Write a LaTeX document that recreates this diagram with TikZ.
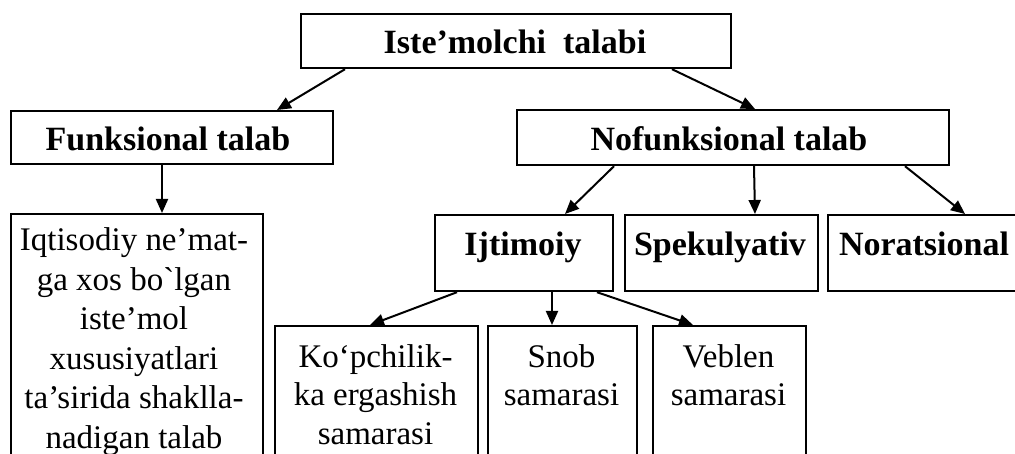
\documentclass[tikz,border=0pt]{standalone}
\usepackage{fontspec}
\setmainfont{Liberation Serif}
\usetikzlibrary{arrows.meta}
\tikzset{
  box/.style={draw=black, line width=2.2pt, rectangle, anchor=north west, inner sep=0pt, fill=white},
  conn/.style={line width=2pt, -{Triangle[length=14pt,width=12pt]}},
  bt/.style={font=\fontsize{34}{38}\selectfont\bfseries, anchor=base, inner sep=0pt},
  lt/.style={font=\fontsize{33}{39.5}\selectfont, anchor=base, inner sep=0pt, align=center},
  st/.style={font=\fontsize{33}{38.5}\selectfont, anchor=base, inner sep=0pt, align=center}
}
\begin{document}
\begin{tikzpicture}[x=1pt,y=-1pt]
\useasboundingbox (0,0) rectangle (1015,454);
\clip (0,0) rectangle (1015,454);
% boxes
\node[box, minimum width=430, minimum height=54] (top) at (300,13) {};
\node[box, minimum width=322, minimum height=53] (funk) at (10,110) {};
\node[box, minimum width=432, minimum height=55] (nofunk) at (516,109) {};
\node[box, minimum width=252, minimum height=260] (left) at (10,213) {};
\node[box, minimum width=178, minimum height=76] (ijt) at (434,214) {};
\node[box, minimum width=193, minimum height=76] (spek) at (624,214) {};
\node[box, minimum width=200, minimum height=76] (nor) at (827,214) {};
\node[box, minimum width=203, minimum height=150] (kop) at (274,325) {};
\node[box, minimum width=149, minimum height=150] (snob) at (487,325) {};
\node[box, minimum width=153, minimum height=150] (veb) at (652,325) {};
% texts
\node[bt] (topt) at (515,54) {Iste’molchi\ \ talabi};
\node[bt] (funkt) at (168,151) {Funksional talab};
\node[bt] (nofunkt) at (729,151) {Nofunksional talab};
\node[bt] (ijtt) at (523,256) {Ijtimoiy};
\node[bt] (spekt) at (720,256) {Spekulyativ};
\node[bt] (nort) at (924,256) {Noratsional};
\node[lt] (leftt) at (134,448) {Iqtisodiy ne’mat-\\ga xos bo\textasciigrave lgan\\iste’mol\\xususiyatlari\\ta’sirida shaklla-\\nadigan talab};
\node[st] (kopt) at (375.5,444) {Ko‘pchilik-\\ka ergashish\\samarasi};
\node[st] (snobt) at (561.5,406) {Snob\\samarasi};
\node[st] (vebt) at (728.5,406) {Veblen\\samarasi};
% connectors
\draw[conn] ([xshift=45pt]top.south west) -- ([xshift=267pt]funk.north west);
\draw[conn] ([xshift=372pt]top.south west) -- ([xshift=239pt]nofunk.north west);
\draw[conn] ([xshift=152pt]funk.south west) -- ([xshift=152pt]left.north west);
\draw[conn] ([xshift=98pt]nofunk.south west) -- ([xshift=131pt]ijt.north west);
\draw[conn] ([xshift=238pt]nofunk.south west) -- ([xshift=131pt]spek.north west);
\draw[conn] ([xshift=389pt]nofunk.south west) -- ([xshift=138pt]nor.north west);
\draw[conn] ([xshift=23pt]ijt.south west) -- ([xshift=96pt]kop.north west);
\draw[conn] ([xshift=118pt]ijt.south west) -- ([xshift=65pt]snob.north west);
\draw[conn] ([xshift=163pt]ijt.south west) -- ([xshift=41pt]veb.north west);
\end{tikzpicture}
\end{document}
